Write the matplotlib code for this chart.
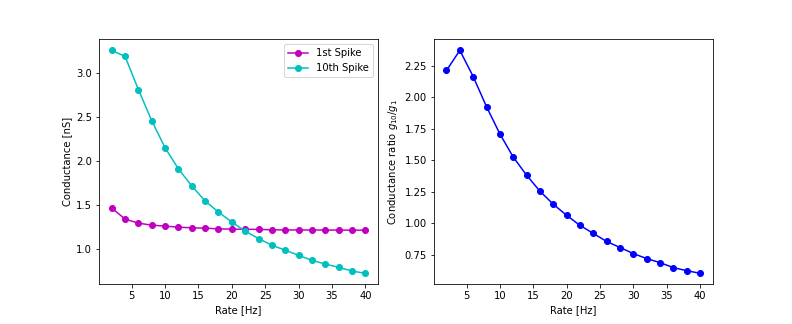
import numpy as np
import matplotlib
matplotlib.use('Agg')
import matplotlib.pyplot as plt

# Frecuencias de estimulacion
rate = [2, 4, 6, 8, 10, 12, 14, 16, 18, 20, 22, 24, 26, 28, 30, 32, 34, 36, 38, 40]

# Conductancia del 1er y 10mo spike [nS]
g_first = [1.47, 1.343, 1.297, 1.274, 1.263, 1.251, 1.244, 1.240, 1.232, 1.229,
           1.227, 1.226, 1.221, 1.220, 1.219, 1.219, 1.218, 1.218, 1.217, 1.217]
g_tenth = [3.263, 3.194, 2.817, 2.463, 2.154, 1.914, 1.720, 1.549, 1.423, 1.309,
           1.206, 1.122, 1.046, 0.989, 0.931, 0.874, 0.832, 0.794, 0.752, 0.726]

# Cociente g10/g1
ratio = [2.213, 2.373, 2.165, 1.925, 1.709, 1.525, 1.381, 1.254, 1.150, 1.062,
         0.982, 0.918, 0.854, 0.806, 0.758, 0.718, 0.686, 0.646, 0.622, 0.601]

fig, (ax1, ax2) = plt.subplots(1, 2, figsize=(11, 4.5), dpi=72)
fig.subplots_adjust(left=0.125, right=0.9, top=0.879, bottom=0.122, wspace=0.2)

ax1.plot(rate, g_first, 'm-o', label='1st Spike')
ax1.plot(rate, g_tenth, 'c-o', label='10th Spike')
ax1.set_xlabel('Rate [Hz]')
ax1.set_ylabel('Conductance [nS]')
ax1.legend(loc='upper right')

ax2.plot(rate, ratio, 'b-o')
ax2.set_xlabel('Rate [Hz]')
ax2.set_ylabel('Conductance ratio $g_{10}/g_1$')

plt.savefig('out.png', dpi=72)
